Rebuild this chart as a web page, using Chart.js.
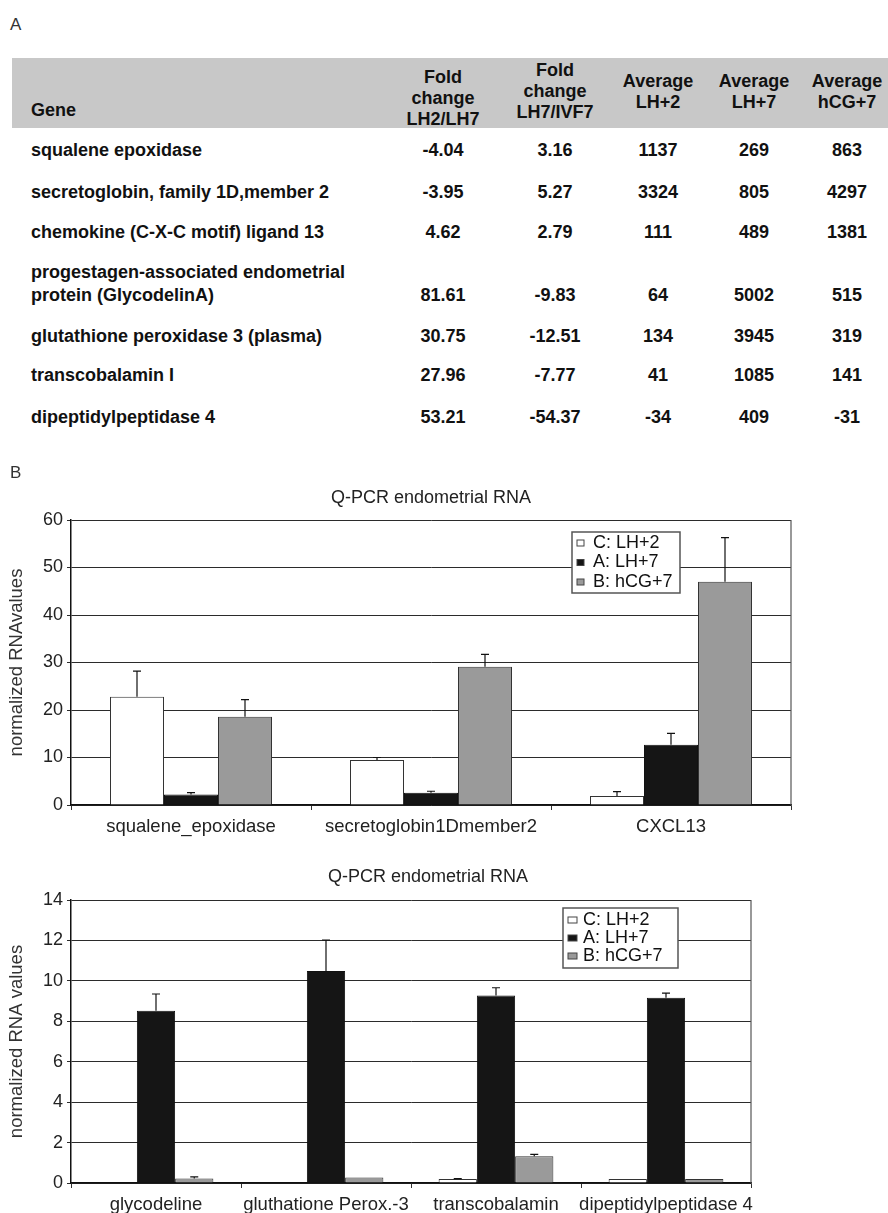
<!DOCTYPE html>
<html>
<head>
<meta charset="utf-8">
<title>Q-PCR endometrial RNA</title>
<script src="https://cdn.jsdelivr.net/npm/chart.js@4.4.1/dist/chart.umd.min.js"></script>
<style>
  body { margin: 0; background: #fff; font-family: "Liberation Sans", Arial, sans-serif; }
  #page { position: relative; width: 888px; height: 1213px; overflow: hidden; }
  .panel { position: absolute; font-size: 17px; color: #333; }
  .cell { position: absolute; font-weight: bold; font-size: 18px; color: #111; white-space: pre; line-height: 21px; }
  .cell.gene2 { line-height: 23px; }
  .box { position: absolute; left: 0; width: 888px; }
</style>
</head>
<body>
<div id="page">
  <div class="panel" style="left:10px;top:15px">A</div>
  <div style="position:absolute;left:12px;top:58px;width:876px;height:70px;background:#c8c8c8"></div>
  <div id="table"></div>
  <div class="box" style="top:470px;height:380px"><canvas id="chart1"></canvas></div>
  <div class="box" style="top:850px;height:363px"><canvas id="chart2"></canvas></div>
  <div class="panel" style="left:10px;top:463px">B</div>
</div>
<script>
// ---- tabla (A) ----
const headers = ["Fold\nchange\nLH2/LH7", "Fold\nchange\nLH7/IVF7", "Average\nLH+2", "Average\nLH+7", "Average\nhCG+7"];
const genes = [
  "squalene epoxidase",
  "secretoglobin, family 1D,member 2",
  "chemokine (C-X-C motif) ligand 13",
  "progestagen-associated endometrial\nprotein (GlycodelinA)",
  "glutathione peroxidase 3 (plasma)",
  "transcobalamin I",
  "dipeptidylpeptidase 4"
];
const foldLH2LH7 = [-4.04, -3.95, 4.62, 81.61, 30.75, 27.96, 53.21];
const foldLH7IVF7 = [3.16, 5.27, 2.79, -9.83, -12.51, -7.77, -54.37];
const avgLH2 = [1137, 3324, 111, 64, 134, 41, -34];
const avgLH7 = [269, 805, 489, 5002, 3945, 1085, 409];
const avgHCG7 = [863, 4297, 1381, 515, 319, 141, -31];

// ---- graficas (B) ----
const seriesLabels = ["C: LH+2", "A: LH+7", "B: hCG+7"];
const cats1 = ["squalene_epoxidase", "secretoglobin1Dmember2", "CXCL13"];
const lh2Top = [22.8, 9.5, 1.9];
const lh2TopErr = [5.4, 0.5, 0.9];
const lh7Top = [2.2, 2.6, 12.7];
const lh7TopErr = [0.4, 0.3, 2.4];
const hcg7Top = [18.6, 29.1, 47.0];
const hcg7TopErr = [3.6, 2.6, 9.3];
const ticks1 = { max: 60, step: 10 };

const cats2 = ["glycodeline", "gluthatione Perox.-3", "transcobalamin", "dipeptidylpeptidase 4"];
const lh2Bottom = [0, 0, 0.2, 0.2];
const lh2BottomErr = [0, 0, 0.02, 0];
const lh7Bottom = [8.52, 10.49, 9.27, 9.17];
const lh7BottomErr = [0.83, 1.53, 0.39, 0.22];
const hcg7Bottom = [0.22, 0.27, 1.32, 0.2];
const hcg7BottomErr = [0.08, 0, 0.1, 0];
const ticks2 = { max: 14, step: 2 };

// posiciones de la tabla
const colX = [443, 555, 658, 754, 847];
const headerY = [98, 91, 91.5, 91.5, 91.5];
const rowY = [150, 192, 232, 295, 336, 375, 417];
const FONT = '"Liberation Sans", Arial, sans-serif';

const table = document.getElementById("table");
function cell(text, x, y, center, extra) {
  const d = document.createElement("div");
  d.className = "cell" + (extra ? " " + extra : "");
  d.textContent = text;
  d.style.left = x + "px";
  d.style.top = y + "px";
  d.style.textAlign = center ? "center" : "left";
  d.style.transform = center ? "translate(-50%, -50%)" : "translate(0, -50%)";
  table.appendChild(d);
}
cell("Gene", 31, 110, false);
headers.forEach((h, i) => cell(h, colX[i], headerY[i], true));
genes.forEach((g, r) => {
  // nombres en dos lineas: la ultima linea queda alineada con los valores
  const lines = g.split("\n").length;
  cell(g, 31, rowY[r] - (lines - 1) * 11.5, false, lines > 1 ? "gene2" : "");
  const row = [foldLH2LH7[r].toFixed(2), foldLH7IVF7[r].toFixed(2), avgLH2[r], avgLH7[r], avgHCG7[r]];
  row.forEach((v, c) => cell(String(v), colX[c], rowY[r], true));
});

// barras de error (solo hacia arriba)
const errorBars = {
  id: "errorBars",
  afterDatasetsDraw(chart) {
    const ctx = chart.ctx;
    const y = chart.scales.y;
    chart.data.datasets.forEach((ds, i) => {
      const meta = chart.getDatasetMeta(i);
      meta.data.forEach((bar, j) => {
        const e = ds.errors[j];
        if (!e) return;
        const top = y.getPixelForValue(ds.data[j] + e);
        ctx.save();
        ctx.strokeStyle = "#111";
        ctx.lineWidth = 1.2;
        ctx.beginPath();
        ctx.moveTo(bar.x, bar.y);
        ctx.lineTo(bar.x, top);
        ctx.moveTo(bar.x - 4, top);
        ctx.lineTo(bar.x + 4, top);
        ctx.stroke();
        ctx.restore();
      });
    });
  },
};

// borde derecho del area
const plotFrame = {
  id: "plotFrame",
  beforeDatasetsDraw(chart) {
    const { ctx, chartArea: a } = chart;
    ctx.save();
    ctx.strokeStyle = "#555";
    ctx.lineWidth = 1.2;
    ctx.beginPath();
    ctx.moveTo(a.right, a.top);
    ctx.lineTo(a.right, a.bottom);
    ctx.stroke();
    ctx.restore();
  },
};

// titulo y leyenda dentro del area
const plotTitle = {
  id: "plotTitle",
  afterDraw(chart, args, o) {
    const ctx = chart.ctx;
    ctx.save();
    ctx.font = "18px " + FONT;
    ctx.fillStyle = "#222";
    ctx.textAlign = "center";
    ctx.textBaseline = "middle";
    ctx.fillText(o.text, o.x, o.y);
    ctx.restore();
  },
};

const boxLegend = {
  id: "boxLegend",
  afterDraw(chart, args, o) {
    const { ctx, chartArea: a } = chart;
    const x = a.left + o.x;
    const y = a.top + o.y;
    ctx.save();
    ctx.fillStyle = "#fff";
    ctx.fillRect(x, y, o.w, o.h);
    ctx.strokeStyle = "#555";
    ctx.lineWidth = 1.5;
    ctx.strokeRect(x, y, o.w, o.h);
    ctx.font = "18px " + FONT;
    ctx.textBaseline = "middle";
    chart.data.datasets.forEach((ds, i) => {
      const cy = y + o.first + i * o.gap;
      ctx.fillStyle = ds.backgroundColor;
      ctx.fillRect(x + o.sx, cy - 3, o.sw, 6);
      ctx.strokeStyle = "#444";
      ctx.lineWidth = 1;
      ctx.strokeRect(x + o.sx, cy - 3, o.sw, 6);
      ctx.fillStyle = "#111";
      ctx.fillText(ds.label, x + o.tx, cy);
    });
    ctx.restore();
  },
};

function buildChart(id, labels, values, errors, tk, yTitle, cfg) {
  const fills = ["#ffffff", "#151515", "#9a9a9a"];
  const borders = ["#333333", "#111111", "#333333"];
  const ctx = document.getElementById(id).getContext("2d");
  return new Chart(ctx, {
    type: "bar",
    data: {
      labels: labels,
      datasets: seriesLabels.map((lab, i) => ({
        label: lab,
        data: values[i],
        errors: errors[i],
        backgroundColor: fills[i],
        borderColor: borders[i],
        borderWidth: 1,
        barPercentage: 1,
        categoryPercentage: 0.675,
      })),
    },
    options: {
      responsive: true,
      maintainAspectRatio: false,
      animation: false,
      layout: { padding: { left: 0, right: cfg.right, top: 50, bottom: 0 } },
      scales: {
        x: {
          grid: { offset: true, drawOnChartArea: false, drawTicks: true, tickLength: 5, color: "#333" },
          border: { color: "#111", width: 1.5 },
          ticks: {
            color: "#222",
            font: { size: 18.5, family: FONT },
            padding: 6,
            maxRotation: 0,
            minRotation: 0,
            autoSkip: false,
          },
          afterFit(scale) {
            scale.height = cfg.xh;
          },
        },
        y: {
          min: 0,
          max: tk.max,
          ticks: { stepSize: tk.step, color: "#222", font: { size: 18, family: FONT }, padding: 4 },
          grid: { color: "#2b2b2b", lineWidth: 1, tickLength: 4, drawTicks: true },
          border: { color: "#111", width: 1.5 },
          title: {
            display: true,
            text: yTitle,
            color: "#333",
            font: { size: 18.5, family: FONT },
            padding: { top: 6, bottom: 0 },
          },
          afterFit(scale) {
            scale.width = 71;
          },
        },
      },
      plugins: {
        legend: { display: false },
        tooltip: { enabled: false },
        plotTitle: { text: "Q-PCR endometrial RNA", x: cfg.tx, y: cfg.ty },
        boxLegend: cfg.legend,
      },
    },
    plugins: [plotFrame, errorBars, plotTitle, boxLegend],
  });
}

buildChart(
  "chart1",
  cats1,
  [lh2Top, lh7Top, hcg7Top],
  [lh2TopErr, lh7TopErr, hcg7TopErr],
  ticks1,
  "normalized RNAvalues",
  { right: 97, xh: 45, tx: 431, ty: 28, legend: { x: 501, y: 12, w: 108, h: 61, first: 11, gap: 19.5, sx: 5, sw: 7, tx: 21 } }
);

buildChart(
  "chart2",
  cats2,
  [lh2Bottom, lh7Bottom, hcg7Bottom],
  [lh2BottomErr, lh7BottomErr, hcg7BottomErr],
  ticks2,
  "normalized RNA values",
  { right: 137, xh: 30, tx: 428, ty: 27, legend: { x: 492, y: 8, w: 115, h: 60, first: 12, gap: 18, sx: 5, sw: 9, tx: 20 } }
);
</script>
</body>
</html>
